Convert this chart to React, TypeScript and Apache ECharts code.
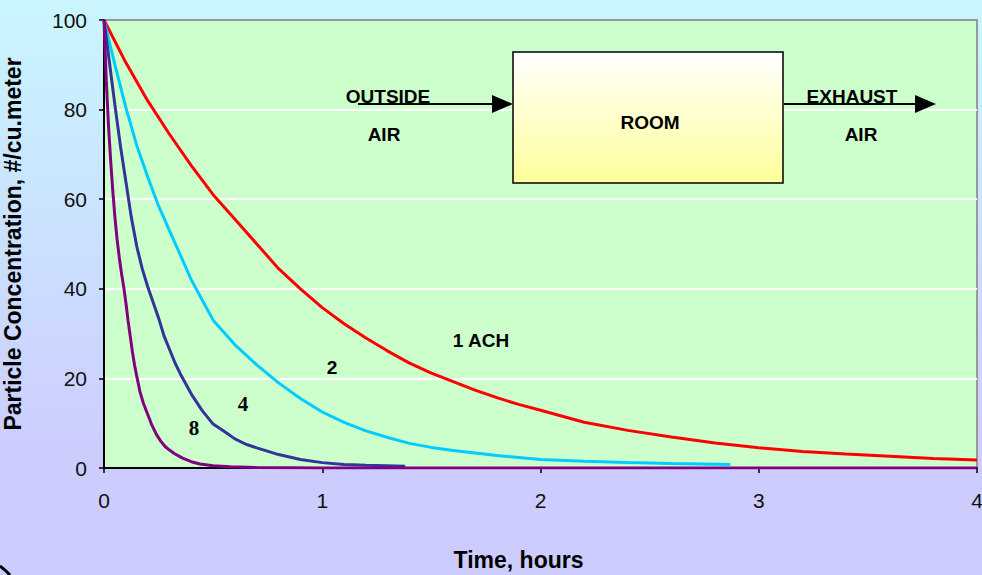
import React, { useEffect, useRef } from "react";
import * as echarts from "echarts";

// Time (hours) vs particle concentration (#/cu.meter)
const red1ACH: [number, number][] = [
  [0, 100], [0.1, 90.5], [0.2, 82], [0.3, 74.5], [0.4, 67.5], [0.5, 61], [0.6, 55.5],
  [0.7, 50], [0.8, 44.5], [0.9, 40], [1.0, 35.8], [1.1, 32.2], [1.2, 29], [1.3, 26.1],
  [1.4, 23.4], [1.5, 21.2], [1.6, 19.3], [1.7, 17.4], [1.8, 15.7], [1.9, 14.2], [2.0, 12.9],
  [2.2, 10.2], [2.4, 8.4], [2.6, 6.9], [2.8, 5.6], [3.0, 4.5], [3.2, 3.7], [3.4, 3.1],
  [3.6, 2.6], [3.8, 2.1], [4.0, 1.8],
];
const cyan2ACH: [number, number][] = [
  [0, 100], [0.05, 90], [0.1, 80.5], [0.15, 72], [0.2, 65], [0.25, 58.5], [0.3, 53],
  [0.35, 47.5], [0.4, 42], [0.45, 37.5], [0.5, 33], [0.6, 27.5], [0.7, 23], [0.8, 19],
  [0.9, 15.5], [1.0, 12.5], [1.1, 10.2], [1.2, 8.3], [1.3, 6.8], [1.4, 5.5], [1.5, 4.6],
  [1.6, 3.9], [1.8, 2.8], [2.0, 1.9], [2.2, 1.5], [2.4, 1.2], [2.6, 1.0], [2.87, 0.8],
];
const blue4ACH: [number, number][] = [
  [0, 100], [0.025, 90.5], [0.05, 81], [0.075, 72], [0.1, 64], [0.125, 56], [0.15, 49.5],
  [0.175, 44.5], [0.2, 40.5], [0.225, 37], [0.25, 33.5], [0.275, 29.5], [0.3, 26.5],
  [0.325, 23.5], [0.35, 21], [0.4, 16.5], [0.45, 12.8], [0.5, 9.8], [0.55, 8.2], [0.6, 6.5],
  [0.65, 5.3], [0.7, 4.5], [0.8, 3.0], [0.9, 1.9], [1.0, 1.2], [1.1, 0.8], [1.2, 0.6],
  [1.38, 0.4],
];
const purple8ACH: [number, number][] = [
  [0, 100], [0.01, 87], [0.02, 77], [0.03, 69], [0.04, 62], [0.05, 56], [0.06, 51],
  [0.07, 47], [0.08, 43.5], [0.09, 40.5], [0.1, 37], [0.11, 33], [0.12, 29.5], [0.13, 26],
  [0.14, 23], [0.15, 20.5], [0.165, 17], [0.18, 14.5], [0.2, 12], [0.22, 9.5], [0.24, 7.5],
  [0.26, 6], [0.28, 4.8], [0.3, 4], [0.32, 3.3], [0.36, 2.2], [0.4, 1.4], [0.44, 0.9],
  [0.5, 0.5], [0.58, 0.3], [0.7, 0.1], [1, 0], [2, 0], [3, 0], [4, 0],
];

const seriesNames = ["1 ACH", "2", "4", "8"];
const seriesColors = ["#ff0000", "#00ccff", "#333399", "#800080"];
const xTicks = [0, 1, 2, 3, 4];
const yTicks = [0, 20, 40, 60, 80, 100];

export default function App() {
  const ref = useRef<HTMLDivElement>(null);

  useEffect(() => {
    if (!ref.current) return;
    const chart = echarts.init(ref.current, undefined, { renderer: "svg" });
    const sans = "'Liberation Sans', Arial, sans-serif";
    const serif = "'Liberation Serif', 'Times New Roman', serif";
    const datasets = [red1ACH, cyan2ACH, blue4ACH, purple8ACH];

    const boldText = (x: number, y: number, text: string, size = 20, family = sans) => ({
      type: "text",
      x,
      y,
      z: 100,
      style: {
        text,
        fill: "#000",
        font: `bold ${size}px ${family}`,
        textAlign: "center",
        textVerticalAlign: "middle",
      },
    });

    chart.setOption({
      animation: false,
      backgroundColor: {
        type: "linear",
        x: 0, y: 0, x2: 0, y2: 1,
        colorStops: [
          { offset: 0, color: "#c9f6fe" },
          { offset: 0.8, color: "#ccccff" },
          { offset: 1, color: "#ccccff" },
        ],
      },
      grid: {
        left: 104,
        right: 5,
        top: 20,
        bottom: 107,
        show: true,
        containLabel: false,
        outerBoundsMode: "none",
        backgroundColor: "#ccffcc",
        borderColor: "#999999",
        borderWidth: 2,
      },
      xAxis: {
        type: "value",
        min: xTicks[0],
        max: xTicks[xTicks.length - 1],
        interval: 1,
        name: "Time, hours",
        nameLocation: "middle",
        nameGap: 80,
        nameTextStyle: {
          fontFamily: sans,
          fontWeight: "bold",
          fontSize: 23,
          color: "#000",
          padding: [0, 44, 0, 0],
        },
        axisLine: { show: true, lineStyle: { color: "#000", width: 2 } },
        axisTick: { show: true, length: 5, lineStyle: { color: "#000", width: 1.5 } },
        axisLabel: { fontFamily: sans, fontSize: 21, color: "#111", margin: 22 },
        splitLine: { show: false },
      },
      yAxis: {
        type: "value",
        min: yTicks[0],
        max: yTicks[yTicks.length - 1],
        interval: 20,
        name: "Particle Concentration, #/cu.meter",
        nameLocation: "middle",
        nameGap: 80,
        nameRotate: 90,
        nameTextStyle: { fontFamily: sans, fontWeight: "bold", fontSize: 23, color: "#000" },
        axisLine: { show: true, lineStyle: { color: "#000", width: 2 } },
        axisTick: { show: true, length: 5, lineStyle: { color: "#000", width: 1.5 } },
        axisLabel: { fontFamily: sans, fontSize: 21, color: "#111", margin: 17 },
        splitLine: {
          show: true,
          lineStyle: { color: ["#ffffff", "#ffffff", "#ffffff", "#ffffff", "#ffffff", "#999999"], width: 2 },
        },
      },
      series: datasets.map((d, i) => ({
        name: seriesNames[i],
        type: "line",
        data: d,
        showSymbol: false,
        symbol: "none",
        z: 2 + i,
        lineStyle: { color: seriesColors[i], width: 3 },
        itemStyle: { color: seriesColors[i] },
      })),
      graphic: [
        // room box
        {
          type: "rect",
          z: 90,
          shape: { x: 513, y: 52, width: 270, height: 131 },
          style: {
            fill: {
              type: "linear",
              x: 0, y: 0, x2: 0, y2: 1,
              colorStops: [
                { offset: 0, color: "#ffffff" },
                { offset: 1, color: "#ffff99" },
              ],
            },
            stroke: "#000",
            lineWidth: 1.5,
          },
        },
        // arrows
        { type: "line", z: 90, shape: { x1: 358, y1: 104, x2: 498, y2: 104 }, style: { stroke: "#000", lineWidth: 2 } },
        { type: "polygon", z: 90, shape: { points: [[492, 95], [513, 104], [492, 113]] }, style: { fill: "#000" } },
        { type: "line", z: 90, shape: { x1: 784, y1: 104, x2: 920, y2: 104 }, style: { stroke: "#000", lineWidth: 2 } },
        { type: "polygon", z: 90, shape: { points: [[915, 95], [936, 104], [915, 113]] }, style: { fill: "#000" } },
        // diagram text
        boldText(388, 96, "OUTSIDE", 19),
        boldText(384, 134, "AIR", 19),
        boldText(650, 122, "ROOM", 19),
        boldText(852, 96, "EXHAUST", 19),
        boldText(861, 134, "AIR", 19),
        // curve labels
        boldText(481, 340, seriesNames[0], 19),
        boldText(332, 367, seriesNames[1], 19),
        boldText(243, 404, seriesNames[2], 21, serif),
        boldText(194, 428, seriesNames[3], 21, serif),
        // corner mark
        {
          type: "polyline",
          z: 100,
          shape: { points: [[0, 566], [5, 570], [10, 575]] },
          style: { stroke: "#000", lineWidth: 3, fill: "none" },
        },
      ],
    });

    return () => chart.dispose();
  }, []);

  return (
    <div
      ref={ref}
      style={{ position: "fixed", left: 0, top: 0, width: 982, height: 575 }}
    />
  );
}
